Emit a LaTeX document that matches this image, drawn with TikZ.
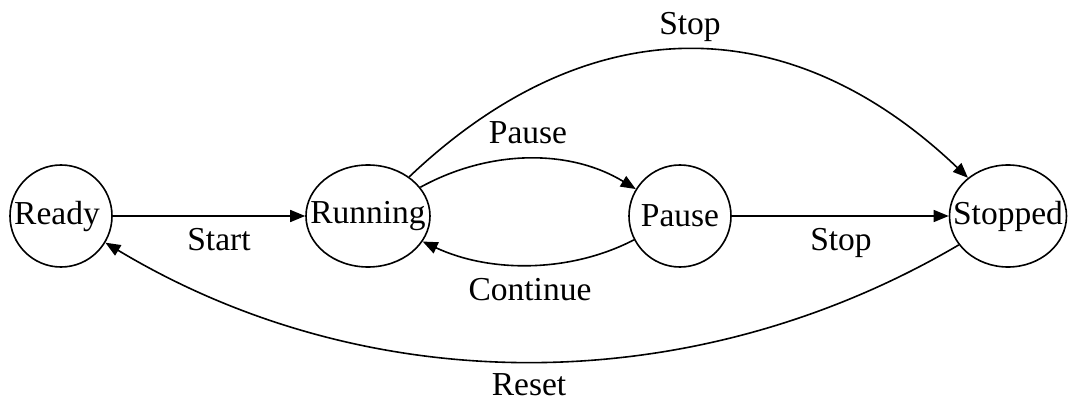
\documentclass[tikz,border=0pt]{standalone}
\usepackage{fontspec}
\setmainfont{Liberation Serif}
\usetikzlibrary{shapes.geometric,arrows.meta}
\newcommand\mkst[1]{\makebox[0pt]{#1}}
\begin{document}
\begin{tikzpicture}[x=1pt,y=-1pt,
  font=\fontsize{33.5}{40}\selectfont,
  state/.style={draw, ellipse, inner sep=0pt, line width=1.6pt, minimum height=102pt},
  lbl/.style={inner sep=0pt},
  edge/.style={line width=1.6pt, -{Triangle[length=15pt,width=12pt]}}]
\useasboundingbox (0,0) rectangle (1071,401);
\node[state, minimum width=102pt] (rdy) at (61,216) {\mkst{Ready\hspace{8pt}}};
\node[state, minimum width=124pt] (run) at (368,216) {\mkst{Running}};
\node[state, minimum width=102pt] (pau) at (680,216) {\mkst{Pause}};
\node[state, minimum width=117pt] (stp) at (1008,216) {\mkst{Stopped}};

\node[lbl] (lstart) at (219,240) {Start};
\node[lbl] (lpause) at (528,133) {Pause};
\node[lbl] (lcont) at (530,290) {Continue};
\node[lbl] (lstop1) at (690,27) {Stop};
\node[lbl] (lstop2) at (841,243) {Stop};
\node[lbl] (lreset) at (529,385) {Reset};

\draw[edge] (rdy) -- (run);
\draw[edge] (run) .. controls (490,149) and (570,149) .. (pau);
\draw[edge] (pau) .. controls (570,273) and (490,273) .. (run);
\draw[edge] (run) .. controls (588,7) and (789,7) .. (stp);
\draw[edge] (pau) -- (stp);
\draw[edge] (stp) .. controls (693,401) and (369,401) .. (rdy);
\end{tikzpicture}
\end{document}
